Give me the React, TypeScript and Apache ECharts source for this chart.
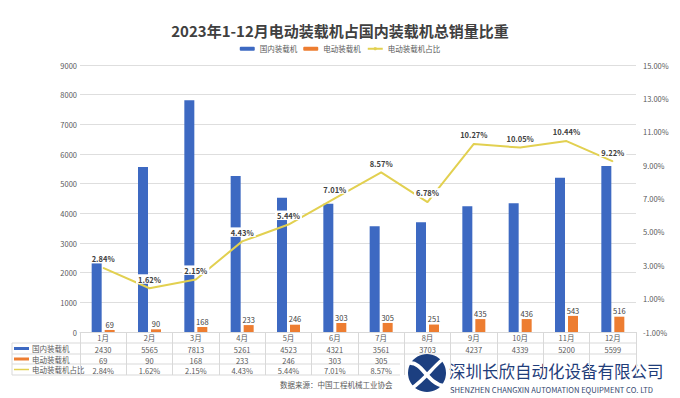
import React, { useEffect, useRef } from 'react';
import * as echarts from 'echarts';

const months = ['1月', '2月', '3月', '4月', '5月', '6月', '7月', '8月', '9月', '10月', '11月', '12月'];
const domestic = [2430, 5565, 7813, 5261, 4523, 4321, 3561, 3703, 4237, 4339, 5200, 5599];
const electric = [69, 90, 168, 233, 246, 303, 305, 251, 435, 436, 543, 516];
const share = [2.84, 1.62, 2.15, 4.43, 5.44, 7.01, 8.57, 6.78, 10.27, 10.05, 10.44, 9.22];
const seriesNames = ['国内装载机', '电动装载机', '电动装载机占比'];
const titleText = '2023年1-12月电动装载机占国内装载机总销量比重';
const sourceText = '数据来源：中国工程机械工业协会';
const companyCn = '深圳长欣自动化设备有限公司';
const companyEn = 'SHENZHEN CHANGXIN AUTOMATION EQUIPMENT CO. LTD';
// table cells from this month on are covered by the company logo in the reference
const coveredFrom = 7;

const BLUE = '#3d69c2';
const ORANGE = '#ed7d31';
const YELLOW = '#e2d050';
const GRIDLINE = '#dedede';
const TEXT = '#595959';
const FONT = '"Noto Sans CJK SC", "Noto Sans", sans-serif';

export default function App() {
  const ref = useRef<HTMLDivElement>(null);
  useEffect(() => {
    if (!ref.current) return;
    const chart = echarts.init(ref.current, undefined, { renderer: 'svg' });
    const gridLeft = 80;
    const gridRight = 44;
    const gridTop = 65;
    const gridBottom = 66;
    const axisY = 398 - gridBottom;
    const rowLines = [axisY + 11, axisY + 22, axisY + 32, axisY + 43];
    const tableLeft = 12;
    const tableRight = 680 - gridRight + 1;

    const rowAxis = (offset: number, values: (number | string)[], hideCovered: boolean) => ({
      type: 'category',
      data: months,
      position: 'bottom',
      offset,
      axisLine: { show: false },
      axisTick: { show: false },
      axisLabel: {
        interval: 0,
        margin: 3,
        fontSize: 7.5,
        color: TEXT,
        fontFamily: FONT,
        formatter: (_v: string, i: number) => (hideCovered && i >= coveredFrom ? '' : String(values[i])),
      },
    });

    const graphics: any[] = [];
    rowLines.forEach((y) => {
      graphics.push({
        type: 'line',
        shape: { x1: tableLeft, y1: y, x2: tableRight, y2: y },
        style: { stroke: '#d9d9d9', lineWidth: 1 },
        silent: true,
      });
    });
    graphics.push({
      type: 'line',
      shape: { x1: tableLeft, y1: rowLines[0], x2: tableLeft, y2: rowLines[3] },
      style: { stroke: '#d9d9d9', lineWidth: 1 },
    });
    const rowCenters = [axisY + 16.5, axisY + 27, axisY + 37.5];
    graphics.push({ type: 'rect', shape: { x: 14, y: rowCenters[0] - 1.5, width: 15, height: 3 }, style: { fill: BLUE } });
    graphics.push({ type: 'rect', shape: { x: 14, y: rowCenters[1] - 1.5, width: 15, height: 3 }, style: { fill: ORANGE } });
    graphics.push({ type: 'line', shape: { x1: 14, y1: rowCenters[2], x2: 29, y2: rowCenters[2] }, style: { stroke: YELLOW, lineWidth: 1.5 } });
    seriesNames.forEach((n, i) => {
      graphics.push({
        type: 'text',
        x: 32,
        y: rowCenters[i],
        style: { text: n, fontSize: 7.5, fill: TEXT, fontFamily: FONT, verticalAlign: 'middle' },
      });
    });
    graphics.push({
      type: 'text',
      x: 280,
      y: 384,
      style: { text: sourceText, fontSize: 7.5, fill: TEXT, fontFamily: FONT, verticalAlign: 'middle' },
    });
    graphics.push({
      type: 'group',
      z: 100,
      children: [
        { type: 'rect', shape: { x: 400, y: 358.5, width: 280, height: 40 }, style: { fill: '#ffffff' } },
        { type: 'circle', shape: { cx: 427, cy: 373, r: 19 }, style: { fill: '#1c3f80' } },
        { type: 'bezierCurve', shape: { x1: 410, y1: 363, x2: 444, y2: 386, cpx1: 422, cpy1: 362, cpx2: 428, cpy2: 384 }, style: { stroke: '#ffffff', lineWidth: 4, fill: 'none' } },
        { type: 'bezierCurve', shape: { x1: 443, y1: 359, x2: 412, y2: 388, cpx1: 432, cpy1: 368, cpx2: 424, cpy2: 380 }, style: { stroke: '#ffffff', lineWidth: 3.5, fill: 'none' } },
        {
          type: 'text', x: 449, y: 371,
          style: { text: companyCn, fontSize: 16.5, fill: '#1f3d7a', fontFamily: FONT, verticalAlign: 'middle' },
        },
        {
          type: 'text', x: 450, y: 389.5,
          style: { text: companyEn, fontSize: 7.6, fill: '#33466e', fontFamily: FONT, verticalAlign: 'middle' },
        },
      ],
    });

    chart.setOption({
      animation: false,
      backgroundColor: '#ffffff',
      textStyle: { fontFamily: FONT },
      title: {
        text: titleText,
        left: 'center',
        top: 18,
        textStyle: { fontSize: 15, fontWeight: 'bold', color: '#404040', fontFamily: FONT },
      },
      legend: {
        top: 40,
        left: 'center',
        itemWidth: 15,
        itemHeight: 4,
        itemGap: 6,
        textStyle: { fontSize: 7.5, color: TEXT, fontFamily: FONT },
        data: seriesNames,
      },
      grid: { left: gridLeft, right: gridRight, top: gridTop, bottom: gridBottom },
      xAxis: [
        {
          type: 'category',
          data: months,
          position: 'bottom',
          axisLine: { lineStyle: { color: '#d9d9d9' } },
          axisTick: { show: true, length: 43, alignWithLabel: false, interval: 0, lineStyle: { color: '#d9d9d9' } },
          axisLabel: { interval: 0, margin: 2, fontSize: 7.5, color: TEXT, fontFamily: FONT },
        },
        rowAxis(11, domestic, false),
        rowAxis(21.5, electric, true),
        rowAxis(32, share.map((v) => v.toFixed(2) + '%'), true),
      ],
      yAxis: [
        {
          type: 'value',
          min: 0,
          max: 9000,
          interval: 1000,
          axisLine: { show: false },
          axisTick: { show: false },
          axisLabel: { fontSize: 7.5, color: TEXT, margin: 3, fontFamily: FONT, formatter: (v: number) => String(v) },
          splitLine: { lineStyle: { color: GRIDLINE } },
        },
        {
          type: 'value',
          min: -1,
          max: 15,
          interval: 2,
          position: 'right',
          axisLine: { show: false },
          axisTick: { show: false },
          splitLine: { show: false },
          axisLabel: {
            fontSize: 7.5,
            color: TEXT,
            margin: 7,
            fontFamily: FONT,
            formatter: (v: number) => v.toFixed(2) + '%',
          },
        },
      ],
      series: [
        {
          name: seriesNames[0],
          type: 'bar',
          data: domestic,
          barWidth: 10,
          barGap: '30%',
          itemStyle: { color: BLUE },
          z: 2,
        },
        {
          name: seriesNames[1],
          type: 'bar',
          data: electric,
          barWidth: 10,
          barGap: '30%',
          itemStyle: { color: ORANGE },
          label: { show: true, position: 'top', distance: 2, fontSize: 7.5, color: '#404040', fontFamily: FONT },
          z: 2,
        },
        {
          name: seriesNames[2],
          type: 'line',
          yAxisIndex: 1,
          data: share,
          symbol: 'circle',
          symbolSize: 1,
          showSymbol: true,
          lineStyle: { color: YELLOW, width: 2 },
          itemStyle: { color: YELLOW },
          z: 5,
          label: {
            show: true,
            position: 'top',
            distance: 4,
            fontSize: 7.5,
            fontWeight: 'bold',
            color: '#404040',
            fontFamily: FONT,
            backgroundColor: '#ffffff',
            padding: [1, 2],
            formatter: (p: any) => Number(p.value).toFixed(2) + '%',
          },
        },
      ],
      graphic: graphics,
    });
    return () => chart.dispose();
  }, []);
  return (
    <div
      ref={ref}
      style={{ position: 'fixed', left: 0, top: 0, width: 680, height: 398, background: '#fff' }}
    />
  );
}
